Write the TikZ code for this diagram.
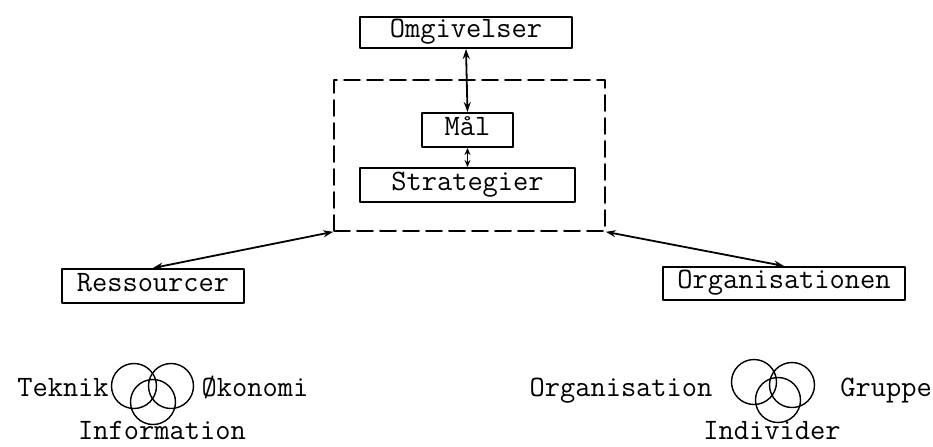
\documentclass[tikz,border=0pt]{standalone}
\usetikzlibrary{arrows.meta}

\begin{document}
\begin{tikzpicture}[
    x=0.5pt, y=-0.5pt,
    line cap=round,
    line join=round,
    every node/.style={font=\fontsize{14.8}{16}\selectfont\ttfamily},
    boks/.style={draw, line width=1pt, inner sep=0pt,
                 text height=1.6ex, text depth=0.35ex},
    ramme/.style={draw, line width=0.8pt, dashed, dash pattern=on 8pt off 3.5pt,
                  inner sep=0pt},
    pil/.style={{Stealth[length=5pt,width=3.5pt]}-{Stealth[length=5pt,width=3.5pt]},
                line width=0.9pt},
    kortpil/.style={{Stealth[length=3.5pt,width=3pt]}-{Stealth[length=3.5pt,width=3pt]},
                line width=0.9pt},
    ring/.style={line width=0.7pt},
    tekst/.style={anchor=base, inner sep=0pt}
]

\useasboundingbox (0,0) rectangle (933,446);

% -------------------------------------------------
% Kasser
% -------------------------------------------------

\node[boks, minimum width=106pt, minimum height=15.5pt] (omg)   at (466,32.5)  {Omgivelser};
\node[ramme, minimum width=135.5pt, minimum height=75.5pt] (rum) at (469.5,155.5) {};
\node[boks, minimum width=45.5pt, minimum height=17pt]  (maal)  at (467.5,130) {Mål};
\node[boks, minimum width=107.5pt, minimum height=17pt] (strat) at (467.5,185) {Strategier};

\node[boks, minimum width=91pt, minimum height=17pt]    (res)   at (153,286)   {Ressourcer};
\node[boks, minimum width=121pt, minimum height=16.5pt] (org)   at (784,283.5) {Organisationen};

% -------------------------------------------------
% Pile
% -------------------------------------------------

\draw[pil] (omg.south) -- (maal.north);
\draw[kortpil] (maal.south) -- (strat.north);

\draw[pil] (rum.south west) -- (res.north);
\draw[pil] (rum.south east) -- (org.north);

% -------------------------------------------------
% Cirkler til venstre
% -------------------------------------------------

\draw[ring] (134,386) circle (11.25pt);
\draw[ring] (171,386) circle (11.25pt);
\draw[ring] (153,402) circle (11.25pt);

\node[tekst] (tek) at (63,396)  {Teknik};
\node[tekst] (oek) at (255,396) {Økonomi};
\node[tekst] (inf) at (162,439) {Information};

% -------------------------------------------------
% Cirkler til højre
% -------------------------------------------------

\draw[ring] (754,382) circle (11.25pt);
\draw[ring] (792,385) circle (11.25pt);
\draw[ring] (778,400) circle (11.25pt);

\node[tekst] (orgn) at (621,396) {Organisation};
\node[tekst, anchor=base west] (grp) at (840,396) {Gruppe};
\node[tekst] (ind) at (772,439) {Individer};

\end{tikzpicture}
\end{document}
